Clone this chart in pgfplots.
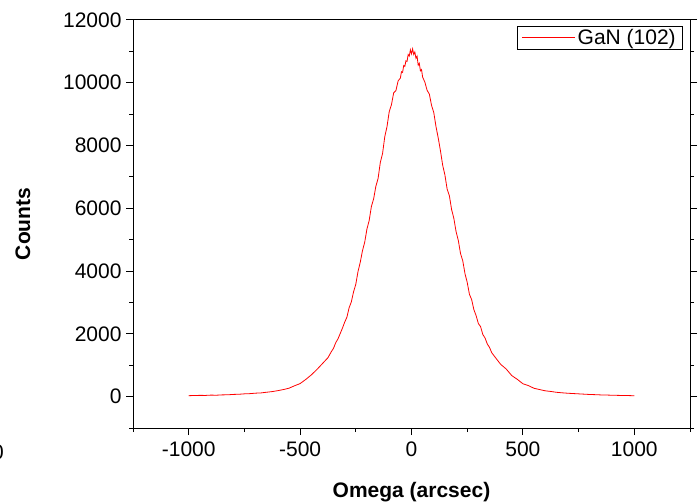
\documentclass[border=0pt]{standalone}
\usepackage{fontspec}
\setmainfont{Liberation Sans}
\usepackage{pgfplots}
\pgfplotsset{compat=1.18}
\newcommand\ff{\fontsize{21bp}{25bp}\selectfont}
\begin{document}
\begin{tikzpicture}
\useasboundingbox (0,0) rectangle (698bp,502bp);
\begin{axis}[
  at={(133bp,74bp)}, anchor=south west,
  scale only axis, width=557bp, height=408bp,
  xmin=-1250, xmax=1250, ymin=-1000, ymax=12000,
  xtick={-1000,-500,0,500,1000},
  minor xtick={-1250,-750,-250,250,750,1250},
  ytick={0,2000,4000,6000,8000,10000,12000},
  minor ytick={-1000,1000,3000,5000,7000,9000,11000},
  scaled y ticks=false, scaled x ticks=false,
  /pgf/number format/assume math mode=true,
  /pgf/number format/1000 sep={},
  tick align=outside,
  xtick pos=bottom, ytick pos=both,
  major tick length=7bp, minor tick length=4bp,
  every tick/.style={black, line width=1bp},
  axis line style={line width=1bp},
  tick label style={font=\ff},
  xticklabel style={yshift=-3bp},
  yticklabel style={xshift=-1bp},
  xlabel={\textbf{Omega (arcsec)}},
  ylabel={\textbf{Counts}},
  label style={font=\ff},
  xlabel style={yshift=-19bp},
  ylabel style={yshift=26bp},
  legend style={at={(1,1)}, anchor=north east, xshift=-7bp, yshift=-6bp,
    draw=black, line width=0.6bp, font=\ff, inner xsep=5bp, inner ysep=1bp,
    row sep=-1bp},
  legend cell align=left,
  legend image code/.code={\path (0bp,0bp) -- (53bp,0bp);\draw[red, line width=0.8bp] (6bp,0bp) -- (53bp,0bp);},
]
\addplot[red, line width=0.8bp] coordinates {
(-1000,30) (-975,35) (-950,40) (-925,38) (-900,48) (-875,45) (-850,55) (-825,58)
(-800,70) (-775,75) (-750,88) (-725,95) (-700,110) (-675,118) (-650,140) (-625,160)
(-600,190) (-575,225) (-550,268) (-525,345) (-500,415) (-475,545) (-450,690) (-425,860)
(-400,1050) (-375,1240) (-360,1430) (-350,1540) (-340,1720) (-330,1840) (-320,2010)
(-310,2180) (-300,2370) (-290,2530) (-280,2830) (-270,3020) (-260,3340) (-250,3580)
(-240,3990) (-230,4280) (-220,4650) (-210,4920) (-200,5340) (-190,5610) (-180,6060)
(-170,6300) (-160,6700) (-150,6950) (-140,7460) (-130,7740) (-120,8280) (-110,8600)
(-100,9080) (-90,9300) (-80,9680) (-70,9750) (-60,10060) (-50,10150) (-45,10350)
(-40,10330) (-35,10550) (-30,10520) (-25,10700) (-20,10680) (-15,10900) (-10,10850)
(-5,11050) (0,10920) (5,11080) (10,10900) (15,10980) (20,10780) (25,10850) (30,10560)
(35,10620) (40,10380) (45,10420) (50,10180) (60,10020) (70,9760) (80,9640) (90,9280)
(100,9050) (110,8600) (120,8240) (130,7830) (140,7370) (150,7060) (160,6610) (170,6400)
(180,5960) (190,5680) (200,5260) (210,4980) (220,4560) (230,4330) (240,3920) (250,3640)
(260,3260) (270,3090) (280,2770) (290,2580) (300,2330) (310,2230) (320,1980) (330,1870)
(340,1680) (350,1570) (360,1400) (375,1260) (400,1030) (425,880) (450,670) (475,550)
(500,410) (525,350) (550,265) (575,225) (600,185) (625,165) (650,138) (675,122)
(700,108) (725,98) (750,88) (775,78) (800,68) (825,62) (850,54) (875,50) (900,44)
(925,40) (950,36) (975,33) (1000,28)
};
\addlegendentry{GaN (102)}
\end{axis}
\node[anchor=east, font=\ff, inner sep=0pt] at (4bp,50bp) {0};
\end{tikzpicture}
\end{document}
